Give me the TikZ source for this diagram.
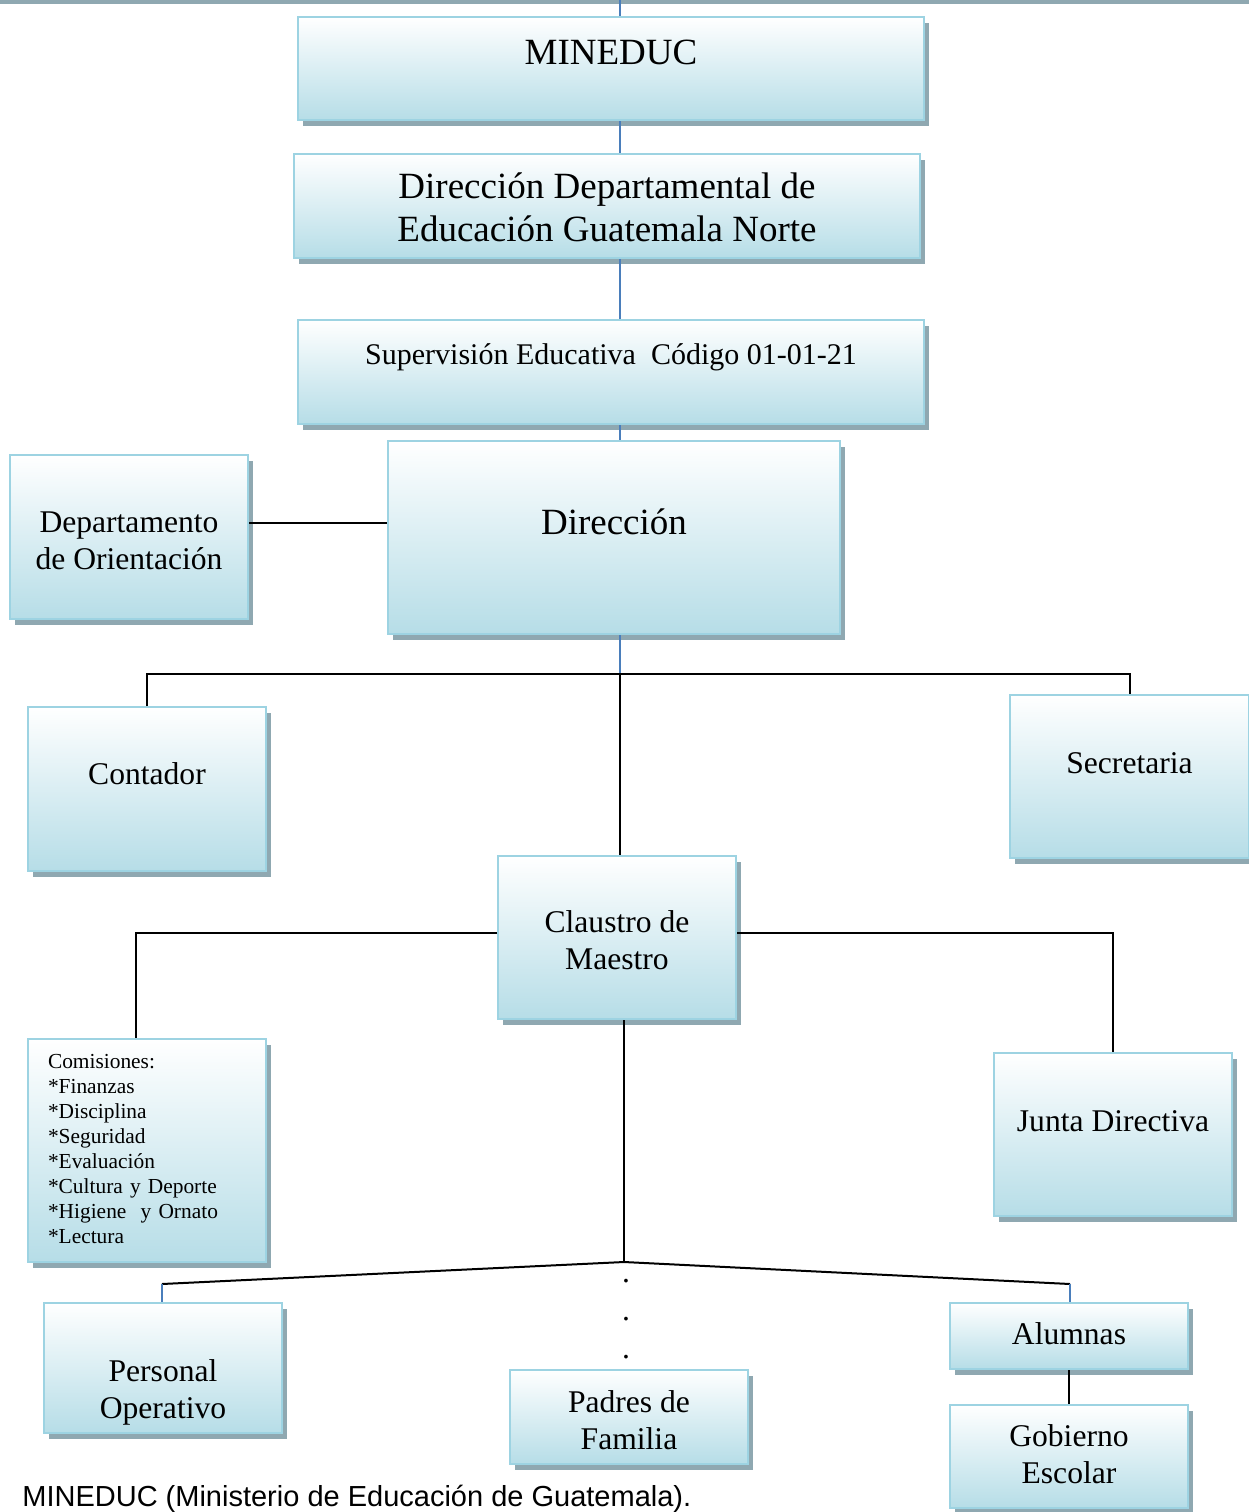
\documentclass[tikz,border=0pt]{standalone}
\usepackage{fontspec}
\setmainfont{Liberation Serif}
\newfontfamily\notefont{Liberation Sans}
\usetikzlibrary{shadows}
\definecolor{boxblue}{HTML}{B6DDE7}
\definecolor{boxedge}{HTML}{9DD3E2}
\definecolor{shadowgrey}{HTML}{8FA8B1}
\definecolor{linkblue}{HTML}{4A7EBB}

\begin{document}
\begin{tikzpicture}[x=0.5pt,y=-0.5pt,
    txtup/.style={text height=0pt,text depth=#1},
    txtdown/.style={text height=#1,text depth=0pt}]
    \tikzstyle{unit}=[draw=boxedge,line width=1pt,top color=white,bottom color=boxblue,
        align=center,inner sep=0pt,minimum width=119pt,
        drop shadow={shadow xshift=2.5pt,shadow yshift=-3pt,fill=shadowgrey,opacity=1},
        font=\fontsize{15.8}{18.5}\selectfont]
    \tikzstyle{big unit}=[unit,font=\fontsize{18.5}{21.5}\selectfont]
    \tikzstyle{link}=[linkblue,line width=0.8pt]
    \tikzstyle{tie}=[black,line width=1pt]

    \useasboundingbox (0,0) rectangle (1249,1512);
    \fill[shadowgrey] (0,0) rectangle (1249,4);

    % Upper levels
    \node[big unit,minimum width=313pt,minimum height=51.5pt,txtup=4.5pt] (mineduc) at (611,68.5) {MINEDUC};
    \node[big unit,minimum width=313pt,minimum height=52pt,txtdown=35pt] (dde) at (607,206) {Dirección Departamental de\\Educación Guatemala Norte};
    \node[unit,font=\fontsize{15}{18}\selectfont,minimum width=313pt,minimum height=52pt,txtup=8pt] (supervision) at (611,372) {Supervisión Educativa\ \ Código 01-01-21};
    \node[big unit,minimum width=226pt,minimum height=96.5pt,txtup=3.5pt] (direccion) at (614,537.5) {Dirección};
    \node[unit,minimum height=82pt,txtdown=32pt] (orientacion) at (129,537) {Departamento\\de Orientación};

    % Middle level
    \node[unit,minimum height=82pt,txtup=5pt] (contador) at (147,789) {Contador};
    \node[unit,minimum width=119.5pt,minimum height=81.5pt,txtup=3.5pt] (secretaria) at (1129.5,776.5) {Secretaria};
    \node[unit,minimum height=81.5pt,txtdown=31.5pt] (claustro) at (617,937.5) {Claustro de\\Maestro};
    \node[unit,minimum height=111.5pt,txtup=82.5pt,align=left,text width=99pt,font=\fontsize{10.7}{12.5}\selectfont] (comisiones) at (147,1150.5)
        {Comisiones:\\{}*Finanzas\\{}*Disciplina\\{}*Seguridad\\{}*Evaluación\\{}*Cultura y Deporte\\{}*Higiene\ \ y Ornato\\{}*Lectura};
    \node[unit,minimum height=81.5pt,txtup=3.5pt] (junta) at (1113,1134.5) {Junta Directiva};

    % Lower level
    \node[unit,minimum height=65pt,txtdown=50pt] (personal) at (163,1368) {Personal\\Operativo};
    \node[unit,minimum height=47pt,txtdown=32pt] (padres) at (629,1417) {Padres de\\Familia};
    \node[unit,minimum height=33pt,txtdown=8pt] (alumnas) at (1069,1336) {Alumnas};
    \node[unit,minimum height=51.5pt,txtdown=26.5pt] (gobierno) at (1069,1456.5) {Gobierno\\Escolar};

    % Junctions
    \coordinate (spine) at (620,0);
    \coordinate (hub1) at (620,674);
    \coordinate (hub2) at (624,1262);
    \coordinate (lft) at (162,1284);
    \coordinate (rgt) at (1070,1284);

    % Blue links down the spine
    \draw[link] (spine) -- (spine |- mineduc.north);
    \draw[link] (spine |- mineduc.south) -- (spine |- dde.north);
    \draw[link] (spine |- dde.south) -- (spine |- supervision.north);
    \draw[link] (spine |- supervision.south) -- (spine |- direccion.north);
    \draw[link] (spine |- direccion.south) -- (hub1);

    % Black ties
    \draw[tie] ([yshift=7pt]orientacion.east) -- ([yshift=7pt]orientacion.east -| direccion.west);
    \draw[tie] (contador.north) -- (contador.north |- hub1) -- (secretaria.north |- hub1) -- (secretaria.north);
    \draw[tie] (hub1) -- (hub1 |- claustro.north);
    \draw[tie] ([yshift=2.25pt]claustro.west) -| ([xshift=-5.5pt]comisiones.north);
    \draw[tie] ([yshift=2.25pt]claustro.east) -| (junta.north);
    \draw[tie] (hub2 |- claustro.south) -- (hub2);
    \draw[tie] (lft) -- (hub2) -- (rgt);
    \draw[link] (lft) -- (lft |- personal.north);
    \draw[link] (rgt) -- (rgt |- alumnas.north);
    \draw[tie,line width=0.6pt] (alumnas.south) -- (gobierno.north);

    % Dots towards Padres de Familia
    \foreach \y in {1280,1318,1356}
        \node[font=\fontsize{15.8}{18}\selectfont,anchor=base,inner sep=0pt] (dot\y) at (626,\y+2) {.};

    % Note
    \node[font=\notefont\fontsize{14.5}{17}\selectfont,anchor=base west,inner sep=0pt] (nota) at (22,1506) {MINEDUC (Ministerio de Educación de Guatemala).};
\end{tikzpicture}
\end{document}
